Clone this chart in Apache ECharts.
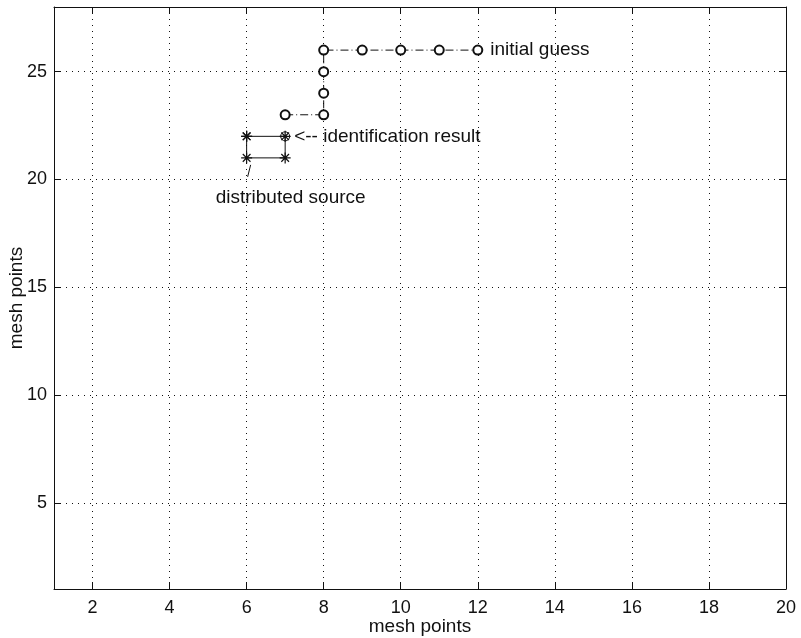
<!DOCTYPE html>
<html>
<head>
<meta charset="utf-8">
<script src="https://cdn.jsdelivr.net/npm/echarts@6/dist/echarts.min.js"></script>
<style>html,body{margin:0;background:#fff}#main{width:801px;height:638px}</style>
</head>
<body>
<div id="main"></div>
<script>
// axis ticks
const xTicks=[2,4,6,8,10,12,14,16,18,20]
const yTicks=[5,10,15,20,25]
// initial guess path (circles, dash-dot)
const guessX=[7,8,8,8,8,9,10,11,12]
const guessY=[23,23,24,25,26,26,26,26,26]
// distributed source rectangle (asterisks)
const srcX=[6,7,7,6,6]
const srcY=[22,22,21,21,22]
// identification result
const resX=[7]
const resY=[22]

const font='Liberation Sans, Arial, Helvetica, sans-serif'
const ink='#111'
const star='path://M0,5L10,5M5,0L5,10M1.5,1.5L8.5,8.5M8.5,1.5L1.5,8.5'

function boxAxis(extra){
    return Object.assign({
        type:'value',
        axisLine:{show:true,onZero:false,lineStyle:{color:ink,width:1}},
        axisTick:{show:true,inside:true,length:7,lineStyle:{color:ink}},
        axisLabel:{show:false},
        splitLine:{show:false}
    },extra)
}

const guessData=guessX.map((x,i)=>{
    const d={value:[x,guessY[i]]}
    if(i===guessX.length-1){
        d.label={show:true,position:'right',distance:7,formatter:'initial guess'}
    }
    return d
})
const srcData=srcX.map((x,i)=>{
    const d={value:[x,srcY[i]]}
    if(i===3){
        d.label={show:true,position:'bottom',distance:0,offset:[44,24],formatter:'distributed source'}
    }
    return d
})

const chart=echarts.init(document.getElementById('main'))
chart.setOption({
    animation:false,
    backgroundColor:'#fff',
    textStyle:{fontFamily:font},
    grid:{left:54,right:15,top:7,bottom:49,containLabel:false,outerBoundsMode:'none'},
    xAxis:[
        boxAxis({
            min:1,max:20,position:'bottom',
            name:'mesh points',nameLocation:'middle',nameGap:28,nameMoveOverlap:false,
            nameTextStyle:{color:ink,fontSize:19,fontFamily:font},
            axisTick:{show:true,inside:true,length:7,customValues:xTicks,lineStyle:{color:ink}},
            axisLabel:{show:true,customValues:xTicks,color:ink,fontSize:18,margin:10,fontFamily:font},
            splitLine:{show:true,lineStyle:{color:ink,type:[1,5],width:1}}
        }),
        boxAxis({min:1,max:20,position:'top',axisTick:{show:true,inside:true,length:7,customValues:xTicks,lineStyle:{color:ink}}})
    ],
    yAxis:[
        boxAxis({
            min:1,max:28,position:'left',
            name:'mesh points',nameLocation:'middle',nameGap:28,nameMoveOverlap:false,
            nameTextStyle:{color:ink,fontSize:19,fontFamily:font},
            axisTick:{show:true,inside:true,length:7,customValues:yTicks,lineStyle:{color:ink}},
            axisLabel:{show:true,customValues:yTicks,color:ink,fontSize:18,margin:7,fontFamily:font},
            splitLine:{show:true,lineStyle:{color:ink,type:[1,5],width:1}}
        }),
        boxAxis({min:1,max:28,position:'right',axisTick:{show:true,inside:true,length:7,customValues:yTicks,lineStyle:{color:ink}}})
    ],
    series:[
        {
            name:'initial guess',type:'line',data:guessData,
            symbol:'emptyCircle',symbolSize:9,
            itemStyle:{color:ink,borderColor:ink,borderWidth:0.8},
            lineStyle:{color:ink,width:1,type:[8,3,1,3]},
            label:{color:ink,fontSize:19,fontFamily:font},
            z:3
        },
        {
            name:'distributed source',type:'line',data:srcData,
            symbol:star,symbolSize:11,
            itemStyle:{color:ink,borderColor:ink,borderWidth:1.2},
            lineStyle:{color:ink,width:1,type:'solid'},
            label:{color:ink,fontSize:19,fontFamily:font},
            z:2
        },
        {
            name:'identification result',type:'scatter',
            data:resX.map((x,i)=>[x,resY[i]]),
            symbol:'circle',symbolSize:9,
            itemStyle:{color:'rgba(0,0,0,0)',borderColor:ink,borderWidth:1,opacity:1},
            label:{show:true,position:'right',distance:4,formatter:'<-- identification result',color:ink,fontSize:19,fontFamily:font},
            z:4
        }
    ]
})

// small pointer line from the source rectangle to its caption
const p=chart.convertToPixel({gridIndex:0},[srcX[3],srcY[3]])
chart.setOption({
    graphic:[{
        type:'line',
        shape:{x1:p[0]+4,y1:p[1]+7,x2:p[0]+1,y2:p[1]+19},
        style:{stroke:ink,lineWidth:1}
    }]
})
</script>
</body>
</html>
